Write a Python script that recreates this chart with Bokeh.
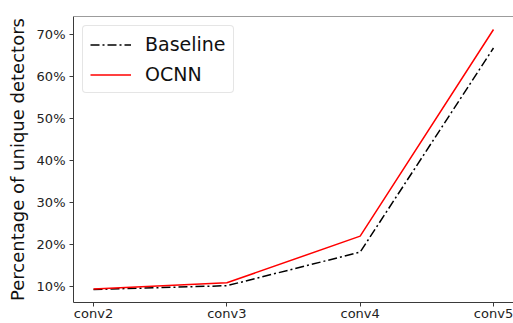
from bokeh.plotting import figure
from bokeh.models import Range1d, FixedTicker, Span, Legend, LegendItem
from bokeh.embed import file_html
from bokeh.resources import INLINE

layers = ["conv2", "conv3", "conv4", "conv5"]
baseline = [9.3, 10.2, 18.2, 66.8]
ocnn = [9.4, 10.9, 22.0, 71.2]
y_ticks = [10, 20, 30, 40, 50, 60, 70]
y_tick_labels = {v: f"{v}%" for v in y_ticks}

xs = list(range(len(layers)))
all_vals = baseline + ocnn
lo, hi = min(all_vals), max(all_vals)
pad = 0.05 * (hi - lo)

p = figure(width=513, height=323, output_backend="svg", toolbar_location=None,
           x_range=Range1d(-0.15, len(layers) - 1 + 0.15),
           y_range=Range1d(lo - pad, hi + pad),
           min_border_left=73, min_border_right=0, min_border_top=16, min_border_bottom=0)

p.grid.visible = False
p.outline_line_color = None
p.background_fill_color = "white"
p.border_fill_color = "white"

font = "DejaVu Sans"
axis_color = "#3a3a3a"

for ax in (p.xaxis, p.yaxis):
    ax.axis_line_color = axis_color
    ax.axis_line_width = 1
    ax.major_tick_line_color = axis_color
    ax.major_tick_out = 4
    ax.major_tick_in = 0
    ax.minor_tick_line_color = None
    ax.major_label_text_font = font
    ax.major_label_text_font_size = "13px"
    ax.major_label_text_color = "#222222"
    ax.major_label_standoff = 4

p.xaxis.major_label_standoff = -1
p.xaxis.ticker = FixedTicker(ticks=xs)
p.xaxis.major_label_overrides = {i: l for i, l in enumerate(layers)}
p.yaxis.ticker = FixedTicker(ticks=y_ticks)
p.yaxis.major_label_overrides = y_tick_labels
p.yaxis.axis_label = "Percentage of unique detectors"
p.yaxis.axis_label_text_font = font
p.yaxis.axis_label_text_font_style = "normal"
p.yaxis.axis_label_text_font_size = "18px"
p.yaxis.axis_label_text_color = "#111111"
p.yaxis.axis_label_standoff = 6

top = Span(location=hi + pad, dimension="width", line_color=axis_color, line_width=1)
p.add_layout(top)

r1 = p.line(xs, baseline, line_color="black", line_width=1.5, line_dash="9 3 2 3")
r2 = p.line(xs, ocnn, line_color="red", line_width=1.5)

legend = Legend(items=[LegendItem(label="Baseline", renderers=[r1]),
                       LegendItem(label="OCNN", renderers=[r2])],
                location="top_left")
legend.margin = 9
legend.padding = 7
legend.spacing = 8
legend.glyph_width = 41
legend.glyph_height = 21
legend.label_height = 21
legend.label_standoff = 14
legend.label_text_font = font
legend.label_text_font_size = "19px"
legend.label_text_color = "#111111"
legend.border_line_color = "#cccccc"
legend.border_line_width = 1
legend.border_radius = 4
legend.background_fill_alpha = 0.8
p.add_layout(legend)

open("out.html", "w").write(file_html(p, INLINE))
